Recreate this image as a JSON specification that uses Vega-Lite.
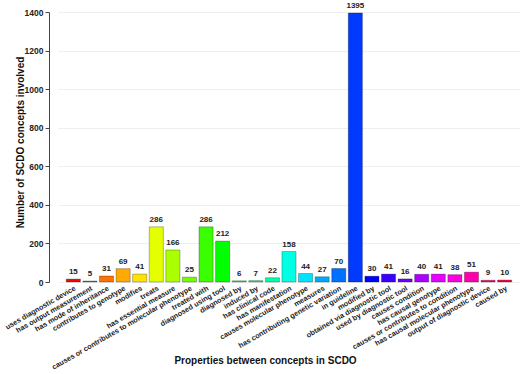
{
  "$schema": "https://vega.github.io/schema/vega-lite/v6.json",
  "width": 462,
  "height": 270,
  "autosize": {"type": "none"},
  "padding": {"left": 58, "top": 12, "right": 0, "bottom": 92},
  "background": "white",
  "config": {
    "view": {"stroke": null},
    "font": "Liberation Sans"
  },
  "data": {
    "values": [
      {"property": "uses diagnostic device", "count": 15},
      {"property": "has output measurement", "count": 5},
      {"property": "has mode of inheritance", "count": 31},
      {"property": "contributes to genotype", "count": 69},
      {"property": "modifies", "count": 41},
      {"property": "treats", "count": 286},
      {"property": "has essential measure", "count": 166},
      {"property": "causes or contributes to molecular phenotype", "count": 25},
      {"property": "treated with", "count": 286},
      {"property": "diagnosed using tool", "count": 212},
      {"property": "diagnosed by", "count": 6},
      {"property": "induced by", "count": 7},
      {"property": "has clinical code", "count": 22},
      {"property": "has manifestation", "count": 158},
      {"property": "causes molecular phenotype", "count": 44},
      {"property": "measures", "count": 27},
      {"property": "has contributing genetic variation", "count": 70},
      {"property": "in guideline", "count": 1395},
      {"property": "modified by", "count": 30},
      {"property": "obtained via diagnostic tool", "count": 41},
      {"property": "used by diagnostic tool", "count": 16},
      {"property": "causes condition", "count": 40},
      {"property": "has causal genotype", "count": 41},
      {"property": "causes or contributes to condition", "count": 38},
      {"property": "has causal molecular phenotype", "count": 51},
      {"property": "output of diagnostic device", "count": 9},
      {"property": "caused by", "count": 10}
    ]
  },
  "encoding": {
    "x": {
      "field": "property",
      "type": "nominal",
      "sort": null,
      "scale": {"paddingInner": 0.15, "paddingOuter": 0.5},
      "axis": {
        "title": "Properties between concepts in SCDO",
        "titleFontSize": 10,
        "titleFontWeight": "bold",
        "titleColor": "#111",
        "titleX": 207,
        "titleY": 78,
        "titleBaseline": "middle",
        "labelAngle": -30,
        "labelAlign": "right",
        "labelBaseline": "top",
        "labelFontSize": 7.3,
        "labelFontWeight": "bold",
        "labelColor": "#222",
        "labelPadding": 2,
        "labelOverlap": false,
        "labelLimit": 300,
        "ticks": false,
        "domain": false,
        "grid": false
      }
    },
    "y": {
      "field": "count",
      "type": "quantitative",
      "scale": {"domain": [0, 1400], "nice": false},
      "axis": {
        "title": "Number of SCDO concepts involved",
        "titleFontSize": 10,
        "titleFontWeight": "bold",
        "titleColor": "#111",
        "titleX": -29,
        "titleY": 130,
        "titleAlign": "center",
        "titleBaseline": "middle",
        "values": [0, 200, 400, 600, 800, 1000, 1200, 1400],
        "format": "d",
        "offset": 9,
        "labelFontSize": 8.5,
        "labelFontWeight": "bold",
        "labelColor": "#222",
        "labelPadding": 2,
        "tickSize": 4,
        "tickColor": "#444",
        "domainColor": "#444",
        "grid": true,
        "gridColor": "#efefef",
        "gridWidth": 1
      }
    }
  },
  "layer": [
    {
      "mark": {"type": "bar", "stroke": "#000", "strokeOpacity": 0.35, "strokeWidth": 0.8},
      "encoding": {
        "color": {
          "field": "property",
          "type": "nominal",
          "legend": null,
          "scale": {
            "domain": ["uses diagnostic device", "has output measurement", "has mode of inheritance", "contributes to genotype", "modifies", "treats", "has essential measure", "causes or contributes to molecular phenotype", "treated with", "diagnosed using tool", "diagnosed by", "induced by", "has clinical code", "has manifestation", "causes molecular phenotype", "measures", "has contributing genetic variation", "in guideline", "modified by", "obtained via diagnostic tool", "used by diagnostic tool", "causes condition", "has causal genotype", "causes or contributes to condition", "has causal molecular phenotype", "output of diagnostic device", "caused by"],
            "range": ["#FF0000", "#FF3900", "#FF7100", "#FFAA00", "#FFE300", "#E3FF00", "#AAFF00", "#71FF00", "#39FF00", "#00FF00", "#00FF39", "#00FF71", "#00FFAA", "#00FFE3", "#00E3FF", "#00AAFF", "#0071FF", "#0039FF", "#0000FF", "#3900FF", "#7100FF", "#AA00FF", "#E300FF", "#FF00E3", "#FF00AA", "#FF0071", "#FF0039"]
          }
        }
      }
    },
    {
      "mark": {"type": "text", "baseline": "bottom", "dy": -3, "fontSize": 8, "fontWeight": "bold", "color": "#222"},
      "encoding": {"text": {"field": "count", "type": "quantitative"}}
    }
  ]
}
